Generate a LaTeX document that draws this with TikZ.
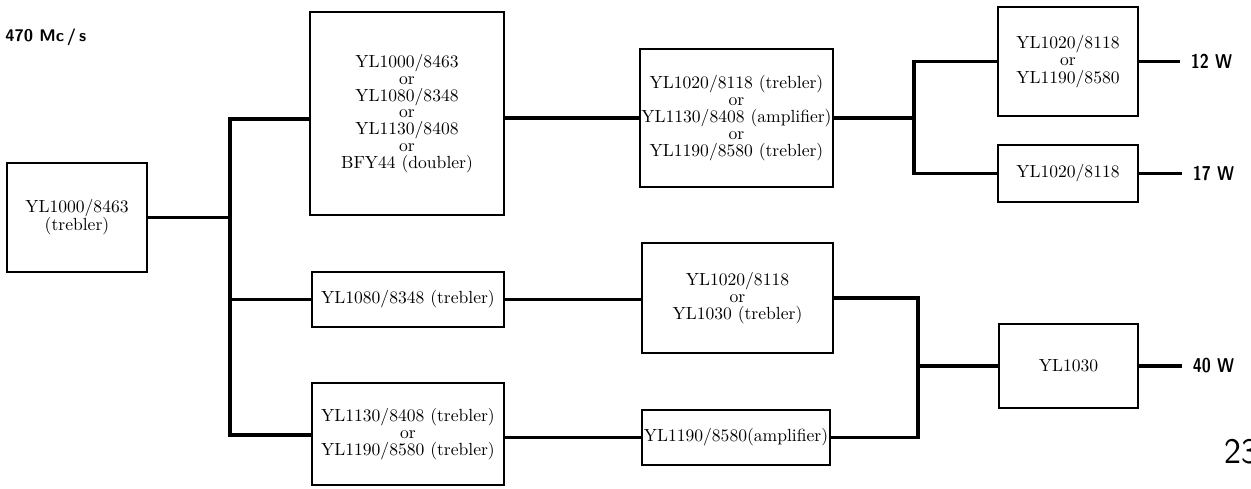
\documentclass[tikz,border=0pt]{standalone}
\usepackage{tikz}
\usepackage{graphicx}
\usetikzlibrary{shapes,positioning}
\tikzstyle{stageblock}=[rectangle, draw, align=center, line width=1.1pt, inner sep=0pt, font=\fontsize{10}{9.6}\selectfont]
\tikzstyle{wattlabel}=[anchor=west, inner xsep=6pt, inner ysep=0pt, font=\sffamily\bfseries\fontsize{11.4}{13}\selectfont]
\tikzstyle{wire}=[line width=2.2pt]
\newcommand{\orl}{\\\relax or\\\relax}
\newcommand{\narrow}[1]{\scalebox{0.82}[1]{#1}}

\begin{document}
\lineskiplimit=-20pt\relax
\begin{tikzpicture}[x=0.02cm, y=-0.02cm]
\useasboundingbox (0,0) rectangle (1251,488);

\node[anchor=west, inner sep=0pt, font=\sffamily\bfseries\fontsize{9.6}{12}\selectfont] (freq) at (5,37) {470 Mc\,/\,s};

\node[stageblock, minimum width=2.8cm, minimum height=2.18cm, font=\fontsize{10}{10.2}\selectfont](p1) at (77,217.5) {YL1000/8463\\(trebler)};
\node[stageblock, minimum width=3.88cm, minimum height=4.06cm](p2) at (407,113.5) {YL1000/8463\orl YL1080/8348\orl YL1130/8408\orl BFY44 (doubler)};
\node[stageblock, minimum width=3.86cm, minimum height=2.76cm](p3) at (736.5,118) {YL1020/8118 (trebler)\orl YL1130/8408 (amplifier)\orl YL1190/8580 (trebler)};
\node[stageblock, minimum width=2.8cm, minimum height=2.18cm, font=\fontsize{10}{9.9}\selectfont](p4) at (1068,61.5) {YL1020/8118\orl YL1190/8580};
\node[stageblock, minimum width=2.8cm, minimum height=1.14cm](p5) at (1068,173.5) {YL1020/8118};
\node[stageblock, minimum width=3.84cm, minimum height=1.1cm](p6) at (408,299.5) {YL1080/8348 (trebler)};
\node[stageblock, minimum width=3.82cm, minimum height=2.2cm](p7) at (737.5,298) {YL1020/8118\orl YL1030 (trebler)};
\node[stageblock, minimum width=3.84cm, minimum height=2.04cm](p8) at (408,434) {YL1130/8408 (trebler)\orl YL1190/8580 (trebler)};
\node[stageblock, minimum width=3.76cm, minimum height=1.1cm](p9) at (736,437.5) {YL1190/8580(amplifier)};
\node[stageblock, minimum width=2.78cm, minimum height=1.68cm](p10) at (1068.5,366) {YL1030};

\node[wattlabel] (w12) at (1180,61.5) {\narrow{12 W}};
\node[wattlabel] (w17) at (1182,173.5) {\narrow{17 W}};
\node[wattlabel] (w40) at (1182,366) {\narrow{40 W}};
\node[anchor=west, inner sep=0pt, font=\sffamily\fontsize{20.5}{24}\selectfont] (pagenum) at (1224,452) {23};

% input splitter
\coordinate (s1a) at (230,119);
\coordinate (s1b) at (230,435);
\draw[wire](s1a -| p2.west) -- (s1a) -- (s1b) -- (s1b -| p8.west);
\draw[wire](p1.east) -- (p1.east -| s1a);
\draw[wire](p6.west) -- (p6.west -| s1a);

% upper chain
\draw[wire](p3.west -| p2.east) -- (p3.west);
\coordinate (s2a) at (914,61.5);
\coordinate (s2b) at (914,173.5);
\draw[wire](s2a -| p4.west) -- (s2a) -- (s2b) -- (s2b -| p5.west);
\draw[wire](p3.east) -- (p3.east -| s2a);
\draw[wire](p4.east) -- (w12.west);
\draw[wire](p5.east) -- (w17.west);

% lower chains
\draw[wire](p6.east) -- (p6.east -| p7.west);
\draw[wire](p9.west -| p8.east) -- (p9.west);
\coordinate (s3a) at (918,298);
\coordinate (s3b) at (918,437.5);
\draw[wire](p7.east) -- (s3a) -- (s3b) -- (p9.east);
\draw[wire](p10.west) -- (p10.west -| s3a);
\draw[wire](p10.east) -- (w40.west);

\end{tikzpicture}
\end{document}
